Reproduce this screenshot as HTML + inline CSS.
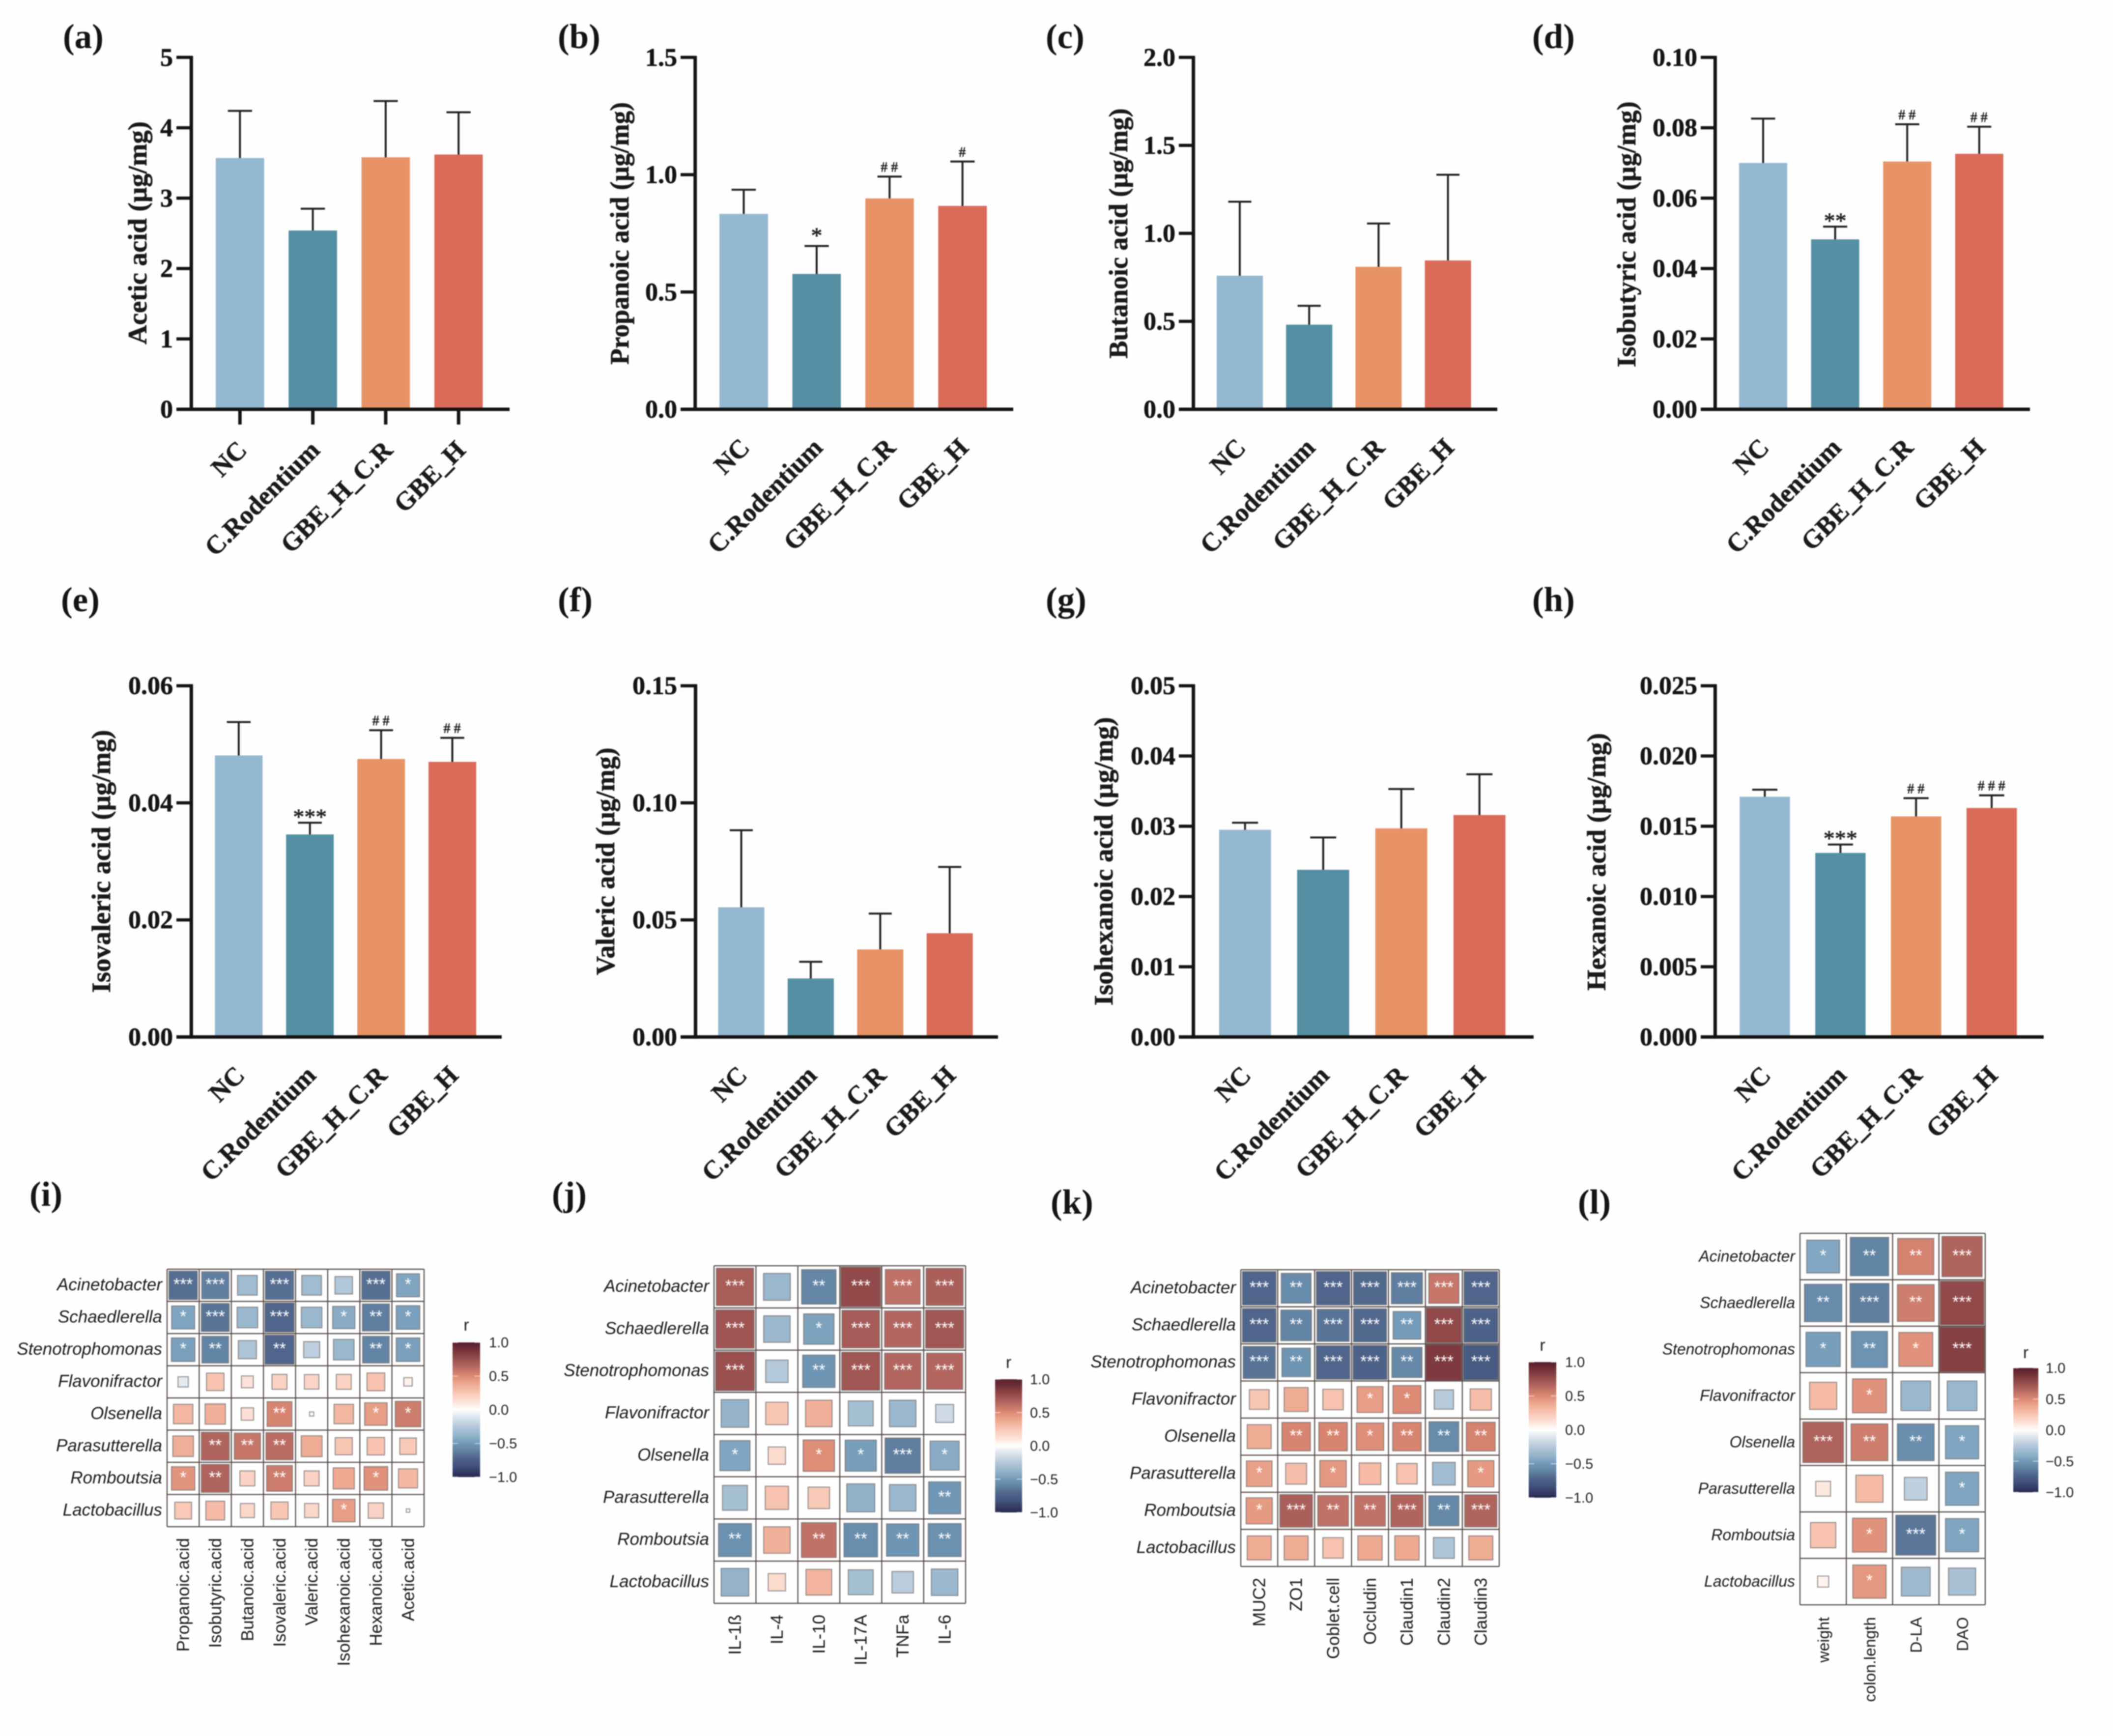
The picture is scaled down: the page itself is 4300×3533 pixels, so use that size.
<!DOCTYPE html>
<html lang="en">
<head>
<meta charset="utf-8">
<title>Short-chain fatty acids and correlation heatmaps</title>
<style>
html,body{margin:0;padding:0;background:#fff;}
svg{display:block;filter:blur(1px);}
.letter{font:bold 71px "Liberation Serif",serif;fill:#141414;}
.ytitle{font:bold 54px "Liberation Serif",serif;fill:#1a1a1a;text-anchor:middle;stroke:#1a1a1a;stroke-width:.7px;}
.ytick{font:bold 52px "Liberation Serif",serif;fill:#141414;text-anchor:end;stroke:#141414;stroke-width:.7px;}
.xtick{font:bold 53px "Liberation Serif",serif;fill:#1a1a1a;text-anchor:end;stroke:#1a1a1a;stroke-width:.7px;}
.hash{font:28px "Liberation Serif",serif;fill:#222;text-anchor:middle;letter-spacing:7px;stroke:#222;stroke-width:.8px;}
.star{font:46px "Liberation Serif",serif;fill:#222;text-anchor:middle;stroke:#222;stroke-width:.8px;}
.row{font:italic 35px "Liberation Sans",sans-serif;fill:#1c1c1c;text-anchor:end;}
.col{font:35px "Liberation Sans",sans-serif;fill:#1c1c1c;text-anchor:end;}
.row-small{font-size:32px;}
.col-small{font-size:32px;}
.cell-star{font:34px "Liberation Sans",sans-serif;fill:#fff;text-anchor:middle;}
.cb{font:29px "Liberation Sans",sans-serif;fill:#222;}
.cbt{font:34px "Liberation Sans",sans-serif;fill:#222;text-anchor:middle;}
</style>
</head>
<body>
<svg id="fig" xmlns="http://www.w3.org/2000/svg" width="4300" height="3533" viewBox="0 0 4300 3533">
<rect width="4300" height="3533" fill="#fefefe"/>
<defs id="defs"></defs>

<text class="letter" x="128" y="98">(a)</text>
<text class="letter" x="1135" y="98">(b)</text>
<text class="letter" x="2128" y="98">(c)</text>
<text class="letter" x="3118" y="98">(d)</text>
<text class="letter" x="124" y="1244">(e)</text>
<text class="letter" x="1135" y="1244">(f)</text>
<text class="letter" x="2128" y="1244">(g)</text>
<text class="letter" x="3118" y="1244">(h)</text>
<text class="letter" x="60" y="2454">(i)</text>
<text class="letter" x="1123" y="2454">(j)</text>
<text class="letter" x="2138" y="2470">(k)</text>
<text class="letter" x="3211" y="2470">(l)</text>

<text class="ytitle" transform="translate(298 474) rotate(-90)" textLength="454" lengthAdjust="spacingAndGlyphs">Acetic acid (µg/mg)</text>
<text class="ytitle" transform="translate(1279 475) rotate(-90)" textLength="534" lengthAdjust="spacingAndGlyphs">Propanoic acid (µg/mg)</text>
<text class="ytitle" transform="translate(2294 475) rotate(-90)" textLength="509" lengthAdjust="spacingAndGlyphs">Butanoic acid (µg/mg)</text>
<text class="ytitle" transform="translate(3328 477) rotate(-90)" textLength="541" lengthAdjust="spacingAndGlyphs">Isobutyric acid (µg/mg)</text>
<text class="ytitle" transform="translate(224 1753) rotate(-90)" textLength="535" lengthAdjust="spacingAndGlyphs">Isovaleric acid (µg/mg)</text>
<text class="ytitle" transform="translate(1250 1753) rotate(-90)" textLength="463" lengthAdjust="spacingAndGlyphs">Valeric acid (µg/mg)</text>
<text class="ytitle" transform="translate(2264 1753) rotate(-90)" textLength="587" lengthAdjust="spacingAndGlyphs">Isohexanoic acid (µg/mg)</text>
<text class="ytitle" transform="translate(3267 1754) rotate(-90)" textLength="524" lengthAdjust="spacingAndGlyphs">Hexanoic acid (µg/mg)</text>
</svg>

<script>
/* ---------- bar chart data ---------- */
const groups = ['NC', 'C.Rodentium', 'GBE_H_C.R', 'GBE_H'];

const aceticTicks = ['0', '1', '2', '3', '4', '5'];
const aceticMeans = [3.57, 2.54, 3.58, 3.62];
const aceticUpper = [4.24, 2.85, 4.38, 4.22];
const aceticSig = ['', '', '', ''];

const propanoicTicks = ['0.0', '0.5', '1.0', '1.5'];
const propanoicMeans = [0.833, 0.577, 0.899, 0.867];
const propanoicUpper = [0.936, 0.696, 0.992, 1.056];
const propanoicSig = ['', '*', '##', '#'];

const butanoicTicks = ['0.0', '0.5', '1.0', '1.5', '2.0'];
const butanoicMeans = [0.759, 0.481, 0.81, 0.846];
const butanoicUpper = [1.18, 0.588, 1.056, 1.333];
const butanoicSig = ['', '', '', ''];

const isobutyricTicks = ['0.00', '0.02', '0.04', '0.06', '0.08', '0.10'];
const isobutyricMeans = [0.07, 0.0483, 0.0704, 0.0726];
const isobutyricUpper = [0.0826, 0.0519, 0.081, 0.0803];
const isobutyricSig = ['', '**', '##', '##'];

const isovalericTicks = ['0.00', '0.02', '0.04', '0.06'];
const isovalericMeans = [0.0481, 0.0346, 0.0475, 0.047];
const isovalericUpper = [0.0538, 0.0366, 0.0524, 0.0511];
const isovalericSig = ['', '***', '##', '##'];

const valericTicks = ['0.00', '0.05', '0.10', '0.15'];
const valericMeans = [0.0554, 0.025, 0.0374, 0.0443];
const valericUpper = [0.0883, 0.0321, 0.0527, 0.0726];
const valericSig = ['', '', '', ''];

const isohexanoicTicks = ['0.00', '0.01', '0.02', '0.03', '0.04', '0.05'];
const isohexanoicMeans = [0.0295, 0.0238, 0.0297, 0.0316];
const isohexanoicUpper = [0.0305, 0.0284, 0.0353, 0.0374];
const isohexanoicSig = ['', '', '', ''];

const hexanoicTicks = ['0.000', '0.005', '0.010', '0.015', '0.020', '0.025'];
const hexanoicMeans = [0.0171, 0.0131, 0.0157, 0.0163];
const hexanoicUpper = [0.0176, 0.0137, 0.017, 0.0172];
const hexanoicSig = ['', '***', '##', '###'];

/* ---------- heatmap data ---------- */
const genera = ['Acinetobacter', 'Schaedlerella', 'Stenotrophomonas', 'Flavonifractor', 'Olsenella', 'Parasutterella', 'Romboutsia', 'Lactobacillus'];

const acidColumns = ['Propanoic.acid', 'Isobutyric.acid', 'Butanoic.acid', 'Isovaleric.acid', 'Valeric.acid', 'Isohexanoic.acid', 'Hexanoic.acid', 'Acetic.acid'];
const acidR = [
  [-.68, -.62, -.33, -.68, -.33, -.26, -.68, -.45],
  [-.45, -.66, -.36, -.72, -.36, -.42, -.62, -.47],
  [-.47, -.6, -.28, -.72, -.22, -.36, -.6, -.47],
  [-.09, .26, .12, .19, .18, .19, .27, .06],
  [.32, .35, .13, .52, .015, .32, .43, .55],
  [.36, .66, .58, .62, .37, .25, .26, .23],
  [.46, .66, .19, .56, .19, .38, .47, .31],
  [.24, .3, .17, .25, .17, .43, .2, .01]
];
const acidStars = [
  ['***', '***', '', '***', '', '', '***', '*'],
  ['*', '***', '', '***', '', '*', '**', '*'],
  ['*', '**', '', '**', '', '', '**', '*'],
  ['', '', '', '', '', '', '', ''],
  ['', '', '', '**', '', '', '*', '*'],
  ['', '**', '**', '**', '', '', '', ''],
  ['*', '**', '', '**', '', '', '*', ''],
  ['', '', '', '', '', '*', '', '']
];

const cytokineColumns = ['IL-1ß', 'IL-4', 'IL-10', 'IL-17A', 'TNFa', 'IL-6'];
const cytokineR = [
  [.69, -.36, -.59, .78, .6, .68],
  [.73, -.35, -.46, .7, .65, .72],
  [.75, -.25, -.52, .72, .65, .65],
  [-.38, .25, .35, -.31, -.35, -.16],
  [-.45, .15, .49, -.48, -.62, -.42],
  [-.31, .27, .23, -.39, -.35, -.51],
  [-.54, .35, .6, -.56, -.52, -.54],
  [-.38, .15, .33, -.31, -.23, -.35]
];
const cytokineStars = [
  ['***', '', '**', '***', '***', '***'],
  ['***', '', '*', '***', '***', '***'],
  ['***', '', '**', '***', '***', '***'],
  ['', '', '', '', '', ''],
  ['*', '', '*', '*', '***', '*'],
  ['', '', '', '', '', '**'],
  ['**', '', '**', '**', '**', '**'],
  ['', '', '', '', '', '']
];

const barrierColumns = ['MUC2', 'ZO1', 'Goblet.cell', 'Occludin', 'Claudin1', 'Claudin2', 'Claudin3'];
const barrierR = [
  [-.72, -.57, -.72, -.7, -.62, .58, -.72],
  [-.72, -.6, -.66, -.7, -.49, .78, -.74],
  [-.66, -.52, -.72, -.74, -.58, .85, -.78],
  [.25, .37, .27, .43, .5, -.24, .29],
  [.37, .52, .52, .48, .52, -.57, .53],
  [.42, .28, .45, .3, .27, -.33, .44],
  [.44, .68, .6, .6, .66, -.58, .66],
  [.37, .37, .27, .38, .38, -.28, .37]
];
const barrierStars = [
  ['***', '**', '***', '***', '***', '***', '***'],
  ['***', '**', '***', '***', '**', '***', '***'],
  ['***', '**', '***', '***', '**', '***', '***'],
  ['', '', '', '*', '*', '', ''],
  ['', '**', '**', '*', '**', '**', '**'],
  ['*', '', '*', '', '', '', '*'],
  ['*', '***', '**', '**', '***', '**', '***'],
  ['', '', '', '', '', '', '']
];

const traitColumns = ['weight', 'colon.length', 'D-LA', 'DAO'];
const traitR = [
  [-.44, -.6, .53, .66],
  [-.57, -.62, .55, .78],
  [-.48, -.53, .47, .82],
  [.3, .47, -.36, -.36],
  [.67, .55, -.55, -.45],
  [.09, .3, -.21, -.45],
  [.26, .47, -.65, -.45],
  [.05, .45, -.34, -.3]
];
const traitStars = [
  ['*', '**', '**', '***'],
  ['**', '***', '**', '***'],
  ['*', '**', '*', '***'],
  ['', '*', '', ''],
  ['***', '**', '**', '*'],
  ['', '', '', '*'],
  ['', '*', '***', '*'],
  ['', '*', '', '']
];

const colorbarTicks = [1, 0.5, 0, -0.5, -1];

/* ---------- styling + layout ---------- */
const barColors = ['#94b8cf', '#548fa3', '#e89366', '#d96b58'];
const rampStops = [
  [1, '#561e2c'], [.85, '#7e3a3e'], [.65, '#b36660'], [.5, '#dc8a74'], [.4, '#eca58d'],
  [.25, '#f9c6b4'], [.1, '#fde6dd'], [0, '#ffffff'], [-.1, '#dfe7ef'], [-.25, '#b4c9da'],
  [-.4, '#8fb0c8'], [-.5, '#7199b8'], [-.6, '#6385a5'], [-.7, '#52698e'], [-.85, '#3f4e78'], [-1, '#2a2950']
];

const ROW1 = {top: 116.8, base: 833};
const ROW2 = {top: 1395.6, base: 2110.4};

const barPanels = [
  {id: 'a', row: ROW1, axisX: 389.3, tickL: 359, right: 1037, first: 488.3, pitch: 148.3, w: 98.5, ticks: aceticTicks, means: aceticMeans, upper: aceticUpper, sig: aceticSig, xTicks: true, dx: 17, dy: 86},
  {id: 'b', row: ROW1, axisX: 1414.7, tickL: 1385, right: 2062, first: 1513.5, pitch: 148.4, w: 98.8, ticks: propanoicTicks, means: propanoicMeans, upper: propanoicUpper, sig: propanoicSig, dx: 15, dy: 81},
  {id: 'c', row: ROW1, axisX: 2428.6, tickL: 2399, right: 3047, first: 2523, pitch: 141.2, w: 94, ticks: butanoicTicks, means: butanoicMeans, upper: butanoicUpper, sig: butanoicSig, dx: 15, dy: 81},
  {id: 'd', row: ROW1, axisX: 3490.4, tickL: 3461, right: 4131, first: 3588, pitch: 146.6, w: 98, ticks: isobutyricTicks, means: isobutyricMeans, upper: isobutyricUpper, sig: isobutyricSig, dx: 15, dy: 81},
  {id: 'e', row: ROW2, axisX: 389.3, tickL: 359, right: 1021, first: 485.8, pitch: 144.9, w: 97, ticks: isovalericTicks, means: isovalericMeans, upper: isovalericUpper, sig: isovalericSig, dx: 15, dy: 81},
  {id: 'f', row: ROW2, axisX: 1415.4, tickL: 1385, right: 2031, first: 1508.5, pitch: 141.4, w: 94, ticks: valericTicks, means: valericMeans, upper: valericUpper, sig: valericSig, dx: 15, dy: 81},
  {id: 'g', row: ROW2, axisX: 2428.6, tickL: 2399, right: 3121, first: 2533.7, pitch: 159, w: 105.8, ticks: isohexanoicTicks, means: isohexanoicMeans, upper: isohexanoicUpper, sig: isohexanoicSig, dx: 15, dy: 81},
  {id: 'h', row: ROW2, axisX: 3490.4, tickL: 3461, right: 4159, first: 3591.4, pitch: 153.9, w: 102.4, ticks: hexanoicTicks, means: hexanoicMeans, upper: hexanoicUpper, sig: hexanoicSig, dx: 15, dy: 81}
];

const heatPanels = [
  {id: 'i', x0: 340, x1: 863, y0: 2583, y1: 3107, cols: acidColumns, r: acidR, stars: acidStars, cb: {x0: 921, x1: 977, y0: 2732, y1: 3006, tx: 995, rY: 2708}},
  {id: 'j', x0: 1453, x1: 1965, y0: 2576, y1: 3263, cols: cytokineColumns, r: cytokineR, stars: cytokineStars, cb: {x0: 2025, x1: 2080, y0: 2807, y1: 3078, tx: 2096, rY: 2784}},
  {id: 'k', x0: 2525, x1: 3051, y0: 2584, y1: 3188, cols: barrierColumns, r: barrierR, stars: barrierStars, cb: {x0: 3111, x1: 3167, y0: 2772, y1: 3048, tx: 3185, rY: 2749}},
  {id: 'l', x0: 3663, x1: 4040, y0: 2510, y1: 3266, small: true, cols: traitColumns, r: traitR, stars: traitStars, cb: {x0: 4097, x1: 4148, y0: 2784, y1: 3037, tx: 4163, rY: 2764}}
];

/* ---------- helpers ---------- */
const SVGNS = 'http://www.w3.org/2000/svg';
const root = document.getElementById('fig');

function make(tag, attrs, parent) {
  const node = document.createElementNS(SVGNS, tag);
  for (const key in attrs) node.setAttribute(key, attrs[key]);
  (parent || root).appendChild(node);
  return node;
}

function hexToRgb(h) {
  return [parseInt(h.slice(1, 3), 16), parseInt(h.slice(3, 5), 16), parseInt(h.slice(5, 7), 16)];
}

function colorFor(r) {
  const v = Math.max(-1, Math.min(1, r));
  for (let i = 0; i < rampStops.length - 1; i++) {
    const a = rampStops[i], b = rampStops[i + 1];
    if (v <= a[0] && v >= b[0]) {
      const t = (a[0] - v) / (a[0] - b[0]);
      const ca = hexToRgb(a[1]), cb = hexToRgb(b[1]);
      return 'rgb(' + ca.map((c, k) => Math.round(c + (cb[k] - c) * t)).join(',') + ')';
    }
  }
  return '#ffffff';
}

/* ---------- bar panels ---------- */
function drawBarPanel(p) {
  const g = make('g', {});
  
  

  const vals = p.ticks.map(Number);
  const maxV = Math.max.apply(null, vals);
  const yScale = v => p.row.base - (v / maxV) * (p.row.base - p.row.top);
  const xScale = i => p.first + i * p.pitch;

  groups.forEach((name, i) => {
    const cx = xScale(i);
    const yBar = yScale(p.means[i]);
    const yErr = yScale(p.upper[i]);

    const bar = make('rect', {x: cx - p.w / 2, y: yBar, width: p.w, height: p.row.base - yBar, fill: barColors[i]}, g);
    
    

    const stem = make('line', {x1: cx, x2: cx, y1: yBar, y2: yErr, stroke: '#222', 'stroke-width': 4}, g);
    
    

    const cap = make('line', {x1: cx - p.w * 0.25, x2: cx + p.w * 0.25, y1: yErr, y2: yErr, stroke: '#222', 'stroke-width': 4}, g);
    
    

    const sig = p.sig[i];
    if (sig) {
      const isHash = sig.charAt(0) === '#';
      const isSingleStar = sig === '*';
      const markY = isHash ? yErr - 10 : (isSingleStar ? yErr - 6 : yErr + 3);
      const mark = make('text', {class: isHash ? 'hash' : 'star', x: cx + (isHash ? 3 : 0), y: markY}, g);
      mark.textContent = sig;
      
      
    }

    const lx = cx + p.dx, ly = p.row.base + p.dy;
    const lab = make('text', {class: 'xtick', transform: 'translate(' + lx + ' ' + ly + ') rotate(-45)'}, g);
    lab.textContent = name;
    
    

    if (p.xTicks) {
      const xt = make('line', {x1: cx, x2: cx, y1: p.row.base, y2: p.row.base + 31, stroke: '#141414', 'stroke-width': 7}, g);
      
      
    }
  });

  p.ticks.forEach(t => {
    const y = yScale(Number(t));
    const tick = make('line', {x1: p.tickL, x2: p.axisX, y1: y, y2: y, stroke: '#141414', 'stroke-width': 6.5}, g);
    
    

    const lab = make('text', {class: 'ytick', x: p.tickL - 7, y: y + 17}, g);
    lab.textContent = t;
    
    
  });

  const yAxis = make('line', {x1: p.axisX, x2: p.axisX, y1: p.row.top - 3.2, y2: p.row.base + 3.5, stroke: '#141414', 'stroke-width': 7}, g);
  
  

  const xAxis = make('line', {x1: p.tickL, x2: p.right, y1: p.row.base, y2: p.row.base, stroke: '#141414', 'stroke-width': 7}, g);
  
  
}

/* ---------- heatmap panels ---------- */
function drawHeatPanel(p) {
  const g = make('g', {});
  
  

  const nCols = p.cols.length, nRows = genera.length;
  const cw = (p.x1 - p.x0) / nCols, ch = (p.y1 - p.y0) / nRows;
  const xScale = c => p.x0 + (c + 0.5) * cw;
  const yScale = r => p.y0 + (r + 0.5) * ch;
  const sideOf = r => Math.min(cw, ch) * Math.min(0.97, 1.07 * Math.sqrt(Math.abs(r)));

  p.r.forEach((rowVals, r) => {
    rowVals.forEach((val, c) => {
      const s = sideOf(val);
      const sq = make('rect', {x: xScale(c) - s / 2, y: yScale(r) - s / 2, width: s, height: s, fill: colorFor(val), stroke: '#6e6a6a', 'stroke-opacity': 0.7, 'stroke-width': 2}, g);
      
      

      const st = p.stars[r][c];
      if (st) {
        const mark = make('text', {class: 'cell-star', x: xScale(c), y: yScale(r) + 9}, g);
        mark.textContent = st;
        
        
      }
    });
  });

  for (let i = 0; i <= nCols; i++) {
    const x = p.x0 + i * cw;
    const v = make('line', {x1: x, x2: x, y1: p.y0, y2: p.y1, stroke: '#564c48', 'stroke-width': 2.2}, g);
    
    
  }
  for (let i = 0; i <= nRows; i++) {
    const y = p.y0 + i * ch;
    const h = make('line', {x1: p.x0, x2: p.x1, y1: y, y2: y, stroke: '#564c48', 'stroke-width': 2.2}, g);
    
    
  }

  genera.forEach((name, r) => {
    const lab = make('text', {class: p.small ? 'row row-small' : 'row', x: p.x0 - 10, y: yScale(r) + 10}, g);
    lab.textContent = name;
    
    
  });

  p.cols.forEach((name, c) => {
    const lx = xScale(c) + 12, ly = p.y1 + (p.small ? 25 : 23);
    const lab = make('text', {class: p.small ? 'col col-small' : 'col', transform: 'translate(' + lx + ' ' + ly + ') rotate(-90)'}, g);
    lab.textContent = name;
    
    
  });

  /* colour bar */
  const cb = p.cb;
  const gradId = 'ramp-' + p.id;
  const grad = make('linearGradient', {id: gradId, x1: 0, y1: 0, x2: 0, y2: 1}, document.getElementById('defs'));
  rampStops.forEach(st => {
    make('stop', {offset: (1 - st[0]) / 2, 'stop-color': st[1]}, grad);
  });
  const bar = make('rect', {x: cb.x0, y: cb.y0, width: cb.x1 - cb.x0, height: cb.y1 - cb.y0, fill: 'url(#' + gradId + ')'}, g);
  
  

  const title = make('text', {class: 'cbt', x: (cb.x0 + cb.x1) / 2, y: cb.rY}, g);
  title.textContent = 'r';
  
  

  const cbY = v => cb.y0 + (1 - v) / 2 * (cb.y1 - cb.y0);
  colorbarTicks.forEach(t => {
    const y = cbY(t);
    [[cb.x0, cb.x0 + 11], [cb.x1 - 11, cb.x1]].forEach(seg => {
      const mark = make('line', {x1: seg[0], x2: seg[1], y1: y, y2: y, stroke: '#ffffff', 'stroke-opacity': 0.55, 'stroke-width': 2}, g);
      
      
    });
    const lab = make('text', {class: 'cb', x: cb.tx, y: y + 10}, g);
    lab.textContent = (t < 0 ? '\u2212' : '') + Math.abs(t).toFixed(1);
    
    
  });
}

barPanels.forEach(drawBarPanel);
heatPanels.forEach(drawHeatPanel);
</script>
</body>
</html>
